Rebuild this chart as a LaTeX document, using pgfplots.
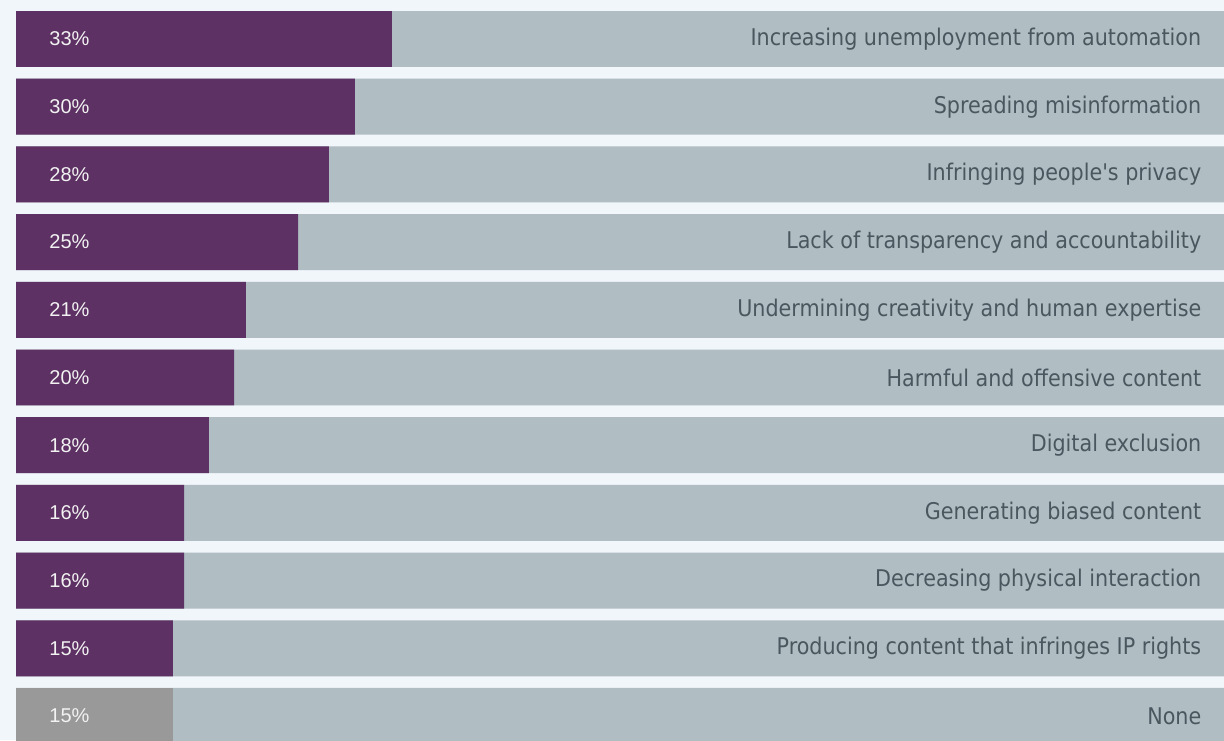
\documentclass[border=0pt]{standalone}
\usepackage{pgfplots}
\usepackage{pgfplotstable}
\pgfplotsset{compat=1.18}
\usepackage{fontspec}
\setmainfont{DejaVu Sans Condensed}
\newfontfamily\pctfont{Liberation Sans}
\definecolor{bg}{HTML}{F1F6FA}
\definecolor{track}{HTML}{B0BDC3}
\definecolor{purp}{HTML}{5D3163}
\definecolor{nonegray}{HTML}{999999}
\definecolor{lbl}{HTML}{4A575E}
\definecolor{pcttxt}{HTML}{F2F2F2}

\pgfplotstableread[col sep=comma]{
y,pct,len,name
0,33,33.0,Increasing unemployment from automation
1,30,29.76,Spreading misinformation
2,28,27.48,Infringing people\textquotesingle s privacy
3,25,24.76,Lack of transparency and accountability
4,21,20.19,Undermining creativity and human expertise
5,20,19.14,Harmful and offensive content
6,18,16.94,Digital exclusion
7,16,14.75,Generating biased content
8,16,14.75,Decreasing physical interaction
9,15,13.78,Producing content that infringes IP rights
}\purpdata

\pgfplotstableread[col sep=comma]{
y,pct,len,name
10,15,13.78,None
}\nonedata

\begin{document}
\begin{tikzpicture}
\begin{axis}[
  scale only axis, width=612pt, height=370pt,
  xmin=-1.405, xmax=106.06,
  ymin=-0.576, ymax=10.355, y dir=reverse,
  axis line style={draw=none}, ticks=none,
  axis background/.style={fill=bg},
  bar width=0.827,
  clip=true,
  pctlab/.style={only marks, mark=*, mark size=0pt, mark options={draw=none, fill=none},
    point meta=explicit symbolic,
    nodes near coords={\pgfplotspointmeta\%},
    nodes near coords style={anchor=west, inner sep=0pt, text=pcttxt, font=\fontsize{10}{12}\selectfont\pctfont}},
  namelab/.style={only marks, mark=*, mark size=0pt, mark options={draw=none, fill=none},
    point meta=explicit symbolic,
    nodes near coords,
    nodes near coords style={anchor=east, inner sep=0pt, text=lbl, font=\fontsize{11.5}{13}\selectfont}},
]
% grey tracks
\addplot[xbar, bar shift=0pt, fill=track, draw=none]
  coordinates {(110,0) (110,1) (110,2) (110,3) (110,4) (110,5) (110,6) (110,7) (110,8) (110,9) (110,10)};
% bars
\addplot[xbar, bar shift=0pt, fill=purp, draw=none] table[x=len, y=y] {\purpdata};
\addplot[xbar, bar shift=0pt, fill=nonegray, draw=none] table[x=len, y=y] {\nonedata};
% percentage labels
\addplot[pctlab] table[x expr=2.9, y=y, meta=pct] {\purpdata};
\addplot[pctlab] table[x expr=2.9, y=y, meta=pct] {\nonedata};
% category names
\addplot[namelab] table[x expr=104.1, y=y, meta=name] {\purpdata};
\addplot[namelab] table[x expr=104.1, y=y, meta=name] {\nonedata};
\end{axis}
\end{tikzpicture}
\end{document}
